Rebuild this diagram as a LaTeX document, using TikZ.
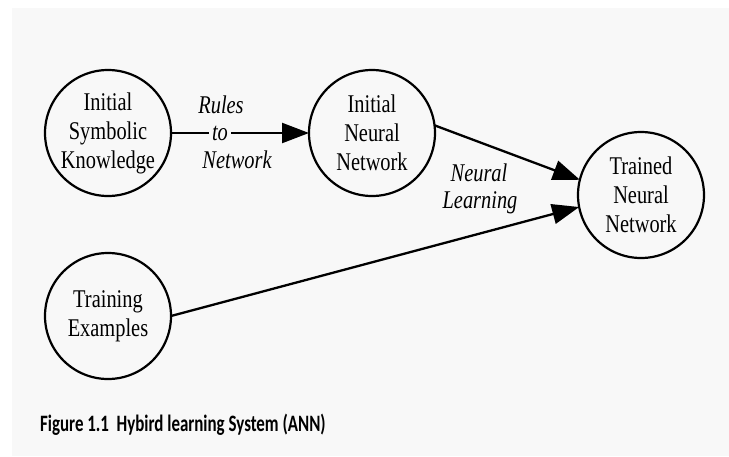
\documentclass[tikz,border=0pt]{standalone}
\usepackage{fontspec}
\setmainfont[FakeStretch=0.8]{Liberation Serif}
\newfontfamily\capfont[FakeStretch=0.72]{Carlito}
\usetikzlibrary{arrows.meta}
\definecolor{paper}{HTML}{F8F8F8}

\begin{document}
\begin{tikzpicture}[x=1pt, y=-1pt,
  unit/.style={draw, circle, line width=2.2pt, minimum size=126pt, inner sep=0pt,
    outer sep=0pt, align=center, font=\fontsize{25.5}{29}\selectfont},
  tag/.style={font=\fontsize{25.5}{28}\selectfont\itshape, inner sep=0pt},
  link/.style={line width=2.3pt, -{Triangle[length=27pt, width=20pt]}}]
% Background
\useasboundingbox[fill=white] (0,0) rectangle (729,456);
\fill[paper] (12,8) rectangle (729,456);

% Knowledge
\node[unit] (sym) at (108,133) {Initial\\Symbolic\\Knowledge};

% Initial network
\node[unit] (init) at (372,133) {Initial\\Neural\\Network};

% Examples
\node[unit] (train) at (108,316) {Training\\Examples};

% Trained network
\node[unit] (trained) at (641,195) {Trained\\Neural\\Network};

% Arrows
\draw[link] (sym.east) -- (init.west);
\draw[link] (init.7) -- (trained.166);
\draw[link] (train.east) -- (trained.191);

% Labels
\node[tag, anchor=base] (rules) at (221,113) {Rules};
\node[tag, anchor=base, fill=paper, inner xsep=3pt] (to) at (220,140) {to};
\node[tag, anchor=base] (net) at (237,168) {Network};
\node[tag, anchor=base] (neu) at (479,181) {Neural};
\node[tag, anchor=base] (learn) at (480,208) {Learning};

% Caption
\node[anchor=west, inner sep=0pt, font=\capfont\bfseries\fontsize{23.5}{27}\selectfont]
  (cap) at (40,425) {Figure 1.1\ \ Hybird learning System (ANN)};
\end{tikzpicture}
\end{document}
